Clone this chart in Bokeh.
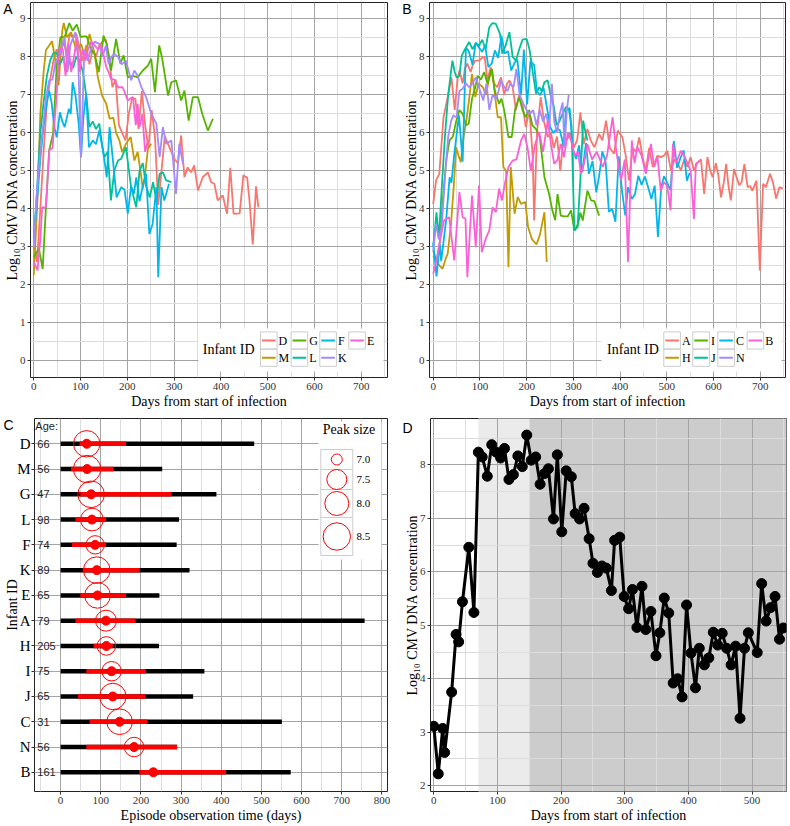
import numpy as np
from bokeh.plotting import figure
from bokeh.models import Range1d, FixedTicker, LinearAxis, CustomJSTickFormatter
from bokeh.layouts import column, row
from bokeh.embed import file_html
from bokeh.resources import INLINE
from bokeh.core.properties import value

# ---------------- data: panel A (days, log10 load) ----------------
D_pts = [(0,3.0),(7,2.6),(14,4.0),(21,5.5),(28,6.8),(35,7.4),(42,7.9),(49,8.2),(56,8.0),(63,8.4),(70,8.1),(77,8.6),(84,8.5),(91,8.6),(98,8.2),(105,7.9),(112,8.3),(119,7.8),(126,8.2),(133,8.0),(140,8.3),(147,8.4),(154,8.45),(161,8.0),(168,7.2),(175,7.4),(182,6.2),(189,6.0),(196,5.8),(203,6.5),(210,6.9),(217,6.9),(224,6.1),(231,7.1),(238,6.2),(245,5.6),(252,6.6),(259,5.9),(266,4.1),(273,5.0),(280,5.9),(287,5.7),(294,5.5),(301,5.3),(308,5.2),(315,5.93),(322,4.83),(329,5.09),(336,4.96),(343,5.14),(351,4.48),(361,4.83),(372,4.96),(379,4.7),(386,4.66),(393,4.22),(404,4.35),(413,3.87),(420,5.08),(427,3.87),(440,3.88),(448,4.88),(456,4.82),(461,4.22),(468,3.06),(475,4.59),(480,4.04)]
M_pts = [(0,2.25),(7,4.0),(14,6.5),(21,7.6),(26,8.18),(33,8.3),(39,8.41),(44,8.08),(53,7.25),(61,8.69),(64,8.89),(71,8.52),(80,8.65),(91,8.17),(101,8.34),(110,8.0),(119,8.6),(130,8.08),(137,7.46),(146,6.98),(155,6.76),(162,6.37),(170,6.4),(176,6.0),(183,5.8),(189,5.49),(197,5.71),(207,5.89),(215,5.27),(222,5.5),(228,5.0),(233,4.53),(238,4.9),(244,5.58),(251,5.71)]
G_pts = [(0,2.73),(11,2.95),(19,2.42),(26,4.04),(33,5.54),(41,5.97),(49,7.73),(57,8.52),(66,8.52),(76,8.89),(83,8.69),(92,8.85),(100,8.52),(105,8.54),(113,8.54),(123,8.17),(130,8.08),(139,7.6),(149,8.56),(156,8.34),(165,7.64),(176,8.47),(185,7.82),(192,8.04),(201,7.46),(212,7.5),(222,7.46),(233,7.64),(244,7.77),(251,7.95),(259,7.07),(268,8.3),(274,7.99),(287,6.98),(294,7.33),(304,7.38),(315,6.85),(322,7.11),(331,6.32),(340,6.94),(351,6.94),(360,6.5),(372,6.06),(383,6.37)]
L_pts = [(0,3.2),(7,4.5),(14,6.0),(21,6.8),(28,7.5),(35,7.9),(42,8.1),(49,8.1),(56,7.8),(63,8.0),(70,7.6),(77,7.9),(84,7.7),(91,8.0),(98,7.9),(105,7.6),(112,7.0),(119,6.15),(126,6.3),(133,6.1),(140,6.24),(147,5.6),(151,5.36),(158,5.5),(165,4.22),(172,5.0),(180,5.27),(187,5.32),(197,5.62),(208,4.57),(219,4.04),(226,5.0),(233,5.2),(240,4.6),(248,4.3),(255,4.7),(262,4.22),(269,4.92),(276,4.96),(283,4.75),(294,4.7)]
F_pts = [(0,3.25),(7,4.2),(14,5.3),(21,6.2),(28,6.8),(33,7.11),(38,6.8),(44,6.15),(49,5.88),(56,6.54),(61,6.3),(66,6.15),(75,6.63),(79,6.5),(83,7.33),(89,7.0),(96,6.24),(101,5.36),(106,6.4),(112,7.03),(118,5.62),(126,5.8),(133,5.7),(140,6.06),(147,5.6),(153,5.1),(156,4.83),(162,6.15),(169,5.3),(177,4.3),(187,4.57),(194,4.5),(201,3.87),(208,4.6),(214,4.4),(219,4.83),(226,4.2),(233,4.6),(240,4.92),(247,3.34),(254,3.6),(262,4.57),(266,2.2),(273,4.57),(279,4.22),(289,4.66)]
K_pts = [(0,3.0),(7,4.5),(14,5.5),(21,6.3),(26,6.94),(33,7.38),(40,7.4),(47,7.9),(54,8.0),(61,8.3),(66,8.52),(72,7.6),(78,8.3),(84,8.5),(89,8.65),(95,7.9),(101,5.36),(108,8.17),(115,7.9),(122,8.2),(130,8.4),(140,8.34),(147,8.0),(154,8.3),(160,7.8),(166,8.0),(172,8.08),(180,8.0),(188,7.8),(197,7.9),(208,7.38),(215,7.64),(222,7.5),(230,7.2),(240,6.94),(251,6.5),(262,6.24),(269,5.36),(276,6.15),(283,5.71),(294,5.8),(304,4.39),(311,5.71),(319,5.18)]
E_pts = [(0,2.6),(8,2.38),(14,3.2),(18,4.04),(26,4.04),(33,5.54),(40,5.6),(48,6.85),(55,8.25),(62,8.2),(68,7.5),(74,8.34),(80,7.6),(86,8.0),(92,8.5),(98,7.6),(104,8.2),(110,7.9),(116,8.2),(123,8.4),(130,8.3),(137,8.2),(144,8.3),(150,8.0),(155,7.73),(160,7.6),(165,7.42),(172,7.4),(180,7.2),(190,7.2),(201,6.85),(206,6.9),(212,6.94),(218,6.2),(222,6.76),(226,6.15),(232,6.5),(238,5.5),(244,5.8)]

# ---------------- data: panel B ----------------
A_pts = [(0,4.13),(6,4.75),(13,4.92),(22,6.41),(31,6.94),(39,7.46),(46,6.6),(52,7.4),(56,7.64),(63,7.3),(68,7.7),(73,7.82),(80,7.6),(85,7.8),(90,7.9),(98,7.9),(106,7.99),(110,8.0),(116,7.38),(123,7.73),(130,7.3),(137,7.2),(145,7.46),(152,7.0),(158,7.3),(163,7.38),(170,7.2),(177,6.6),(184,7.0),(191,6.76),(198,6.15),(206,6.59),(213,5.36),(216,3.69),(222,6.0),(230,6.94),(237,6.3),(245,5.89),(252,6.0),(258,5.6),(265,5.9),(272,5.0),(279,5.9),(286,5.8),(293,6.0),(300,5.6),(308,5.8),(315,6.54),(322,5.7),(330,6.1),(337,5.8),(345,5.62),(355,5.97),(362,5.8),(370,6.32),(378,5.6),(387,5.45),(395,6.06),(405,5.88),(412,5.4),(419,4.75),(427,5.6),(434,5.5),(441,5.88),(448,5.36),(455,5.0),(462,5.6),(470,5.1),(480,5.4),(487,5.36),(494,5.4),(501,5.53),(509,5.0),(516,5.3),(523,5.2),(530,5.01),(537,5.3),(544,5.1),(551,5.36),(558,5.0),(565,5.2),(573,5.3),(580,4.39),(587,5.36),(593,5.0),(598,4.83),(605,5.2),(610,4.9),(616,4.3),(622,4.7),(627,5.18),(632,4.6),(637,4.22),(644,5.05),(650,4.8),(655,4.62),(660,4.7),(666,5.18),(673,4.57),(678,4.6),(683,4.48),(692,4.74),(699,2.38),(706,4.66),(712,4.57),(721,4.92),(727,4.7),(734,4.27),(741,4.57),(748,4.53)]
H_pts = [(0,2.75),(7,2.6),(14,2.5),(20,2.42),(27,2.7),(31,2.82),(38,3.6),(44,4.6),(49,5.62),(54,5.4),(59,5.23),(65,5.9),(70,6.24),(76,6.8),(83,7.55),(90,6.94),(97,7.3),(106,7.2),(113,7.0),(119,7.4),(126,7.68),(132,7.0),(138,6.41),(145,6.41),(150,5.1),(156,5.0),(161,2.46),(166,5.1),(174,3.87),(181,4.31),(188,4.13),(197,4.18),(203,3.52),(211,3.21),(221,3.06),(228,3.3),(238,3.91),(243,2.6)]
I_pts = [(0,2.9),(7,2.6),(14,3.1),(21,4.3),(28,5.3),(35,5.8),(42,5.9),(49,6.3),(56,6.6),(63,6.5),(70,6.2),(76,6.24),(83,6.9),(90,7.2),(95,7.5),(102,7.4),(109,7.6),(116,7.3),(125,7.68),(132,7.1),(141,6.76),(146,6.9),(152,6.59),(161,5.89),(168,5.89),(175,6.6),(184,6.94),(191,6.6),(198,6.41),(205,6.6),(212,6.2),(220,6.1),(228,5.9),(238,4.83),(248,4.39),(255,3.96),(261,3.7),(266,4.39),(273,3.82),(280,3.8),(288,3.8),(295,3.96),(302,3.43),(310,3.6),(315,3.9),(320,3.69),(330,4.48),(338,4.22),(345,4.2),(355,3.82)]
J_pts = [(0,3.0),(7,3.91),(12,3.2),(18,4.5),(25,5.9),(32,7.0),(41,7.9),(46,7.6),(50,7.46),(56,7.5),(61,8.03),(68,8.2),(77,8.39),(84,8.2),(91,8.35),(98,8.3),(105,8.45),(112,8.2),(120,8.78),(127,8.89),(134,8.87),(143,8.6),(148,8.08),(155,8.3),(163,8.65),(170,8.0),(177,7.9),(184,8.2),(191,8.45),(200,8.47),(206,8.2),(213,7.6),(220,7.03),(227,7.2),(232,7.1),(238,7.33),(245,7.38),(251,7.0),(258,6.7),(264,6.2),(270,6.3),(277,6.5),(284,6.68),(290,6.63),(296,6.2),(302,3.43),(309,3.52),(315,4.8),(321,6.32),(326,6.0),(330,5.8)]
C_pts = [(0,3.11),(7,2.22),(14,3.07),(17,2.62),(28,3.75),(35,4.83),(39,4.69),(45,5.44),(55,6.46),(63,5.24),(70,8.24),(76,8.15),(84,7.79),(91,8.38),(98,8.24),(105,8.13),(111,8.31),(118,7.73),(125,7.82),(132,8.17),(139,7.97),(146,8.56),(153,8.09),(160,8.15),(167,7.64),(174,7.84),(180,7.93),(188,6.99),(194,8.19),(201,6.75),(208,7.89),(216,7.78),(222,7.09),(229,6.99),(236,7.19),(244,6.62),(250,6.16),(257,5.99),(264,6.11),(271,6.07),(279,5.65),(284,6.59),(292,6.65),(299,5.54),(306,5.31),(312,5.67),(319,4.96),(327,5.73),(333,4.92),(341,5.26),(349,4.43),(355,4.86),(362,5.51),(369,5.23),(376,3.92),(383,4.0),(390,3.66),(397,5.38),(404,4.48),(411,3.83),(417,4.57),(425,4.26),(432,4.39),(439,4.87),(446,4.63),(453,4.85),(460,4.57),(467,4.26),(474,4.61),(481,3.26),(488,4.57),(494,4.86),(508,4.49),(515,5.78),(522,5.08),(529,5.33),(536,5.54),(543,4.74),(549,4.95)]
N_pts = [(0,2.9),(6,3.6),(12,3.2),(18,3.5),(25,4.8),(32,5.9),(38,6.3),(43,6.46),(50,6.4),(56,7.1),(63,7.16),(70,7.3),(77,7.2),(84,7.3),(91,7.46),(98,7.2),(107,6.85),(114,7.3),(120,6.6),(127,7.0),(134,6.9),(140,7.1),(145,7.38),(152,7.2),(159,7.1),(165,7.3),(172,7.2),(178,7.68),(185,7.0),(193,6.76),(200,6.6),(207,6.5),(214,6.6),(221,6.2),(228,6.6),(235,6.3),(242,6.5),(248,6.1),(254,7.29),(259,6.3),(265,6.0),(271,6.5),(277,6.8),(281,5.6),(286,6.6),(290,7.0)]
B_pts = [(0,2.29),(8,2.7),(15,3.2),(23,3.69),(34,3.78),(45,2.64),(56,4.44),(63,3.78),(69,3.74),(73,2.2),(83,4.35),(91,2.99),(98,4.61),(104,2.86),(112,3.2),(120,3.43),(127,4.04),(134,3.91),(141,4.53),(147,4.22),(154,4.7),(161,5.1),(170,5.27),(178,5.3),(188,5.8),(195,5.97),(202,5.6),(209,5.0),(218,5.7),(227,6.02),(235,5.5),(245,6.32),(252,5.7),(259,5.18),(266,5.3),(273,5.71),(280,5.36),(288,6.0),(295,5.8),(303,5.4),(310,5.5),(316,4.92),(323,5.2),(330,5.7),(340,5.3),(350,5.5),(363,5.1),(372,5.4),(384,6.41),(392,5.5),(402,4.75),(410,5.3),(417,2.6),(425,5.8),(431,5.2),(437,5.62),(446,5.4),(455,4.92),(466,5.71),(473,5.1),(480,5.36),(487,4.48),(494,4.7),(501,4.6),(508,3.96),(513,5.71),(520,5.2),(530,5.53),(537,5.4),(544,5.2),(551,5.0),(558,3.73),(562,5.18),(571,5.27)]

panelA_ids = ["D", "M", "G", "L", "F", "K", "E"]
panelB_ids = ["A", "H", "I", "J", "C", "N", "B"]
series = {"D": D_pts, "M": M_pts, "G": G_pts, "L": L_pts, "F": F_pts, "K": K_pts, "E": E_pts,
          "A": A_pts, "H": H_pts, "I": I_pts, "J": J_pts, "C": C_pts, "N": N_pts, "B": B_pts}

# ---------------- data: panel C ----------------
c_ids = ["D", "M", "G", "L", "F", "K", "E", "A", "H", "I", "J", "C", "N", "B"]
c_ages = [66, 56, 47, 98, 74, 89, 65, 79, 205, 75, 65, 31, 56, 161]
c_obs_end = [482, 253, 388, 295, 289, 321, 246, 757, 245, 358, 330, 551, 290, 573]
c_red_start = [47, 26, 49, 37, 28, 55, 49, 37, 82, 64, 43, 72, 64, 196]
c_red_end = [163, 132, 276, 113, 113, 197, 163, 186, 130, 212, 211, 216, 290, 412]
c_peak_day = [65, 66, 76, 78, 86, 90, 92, 113, 114, 127, 130, 147, 183, 231]
c_peak_size = [8.35, 8.5, 8.38, 7.83, 7.41, 8.38, 8.24, 7.62, 7.42, 7.47, 8.35, 8.24, 7.47, 6.7]
size_legend_breaks = [7.0, 7.5, 8.0, 8.5]

# ---------------- data: panel D (infant C) ----------------
d_phase_left = [70, 150]
d_phase_right = [150, 600]

# ---------------- styling ----------------
SERIF = "Liberation Serif"
SANS = "Liberation Sans"
HUE7 = ["#F8766D", "#C49A00", "#53B400", "#00C094", "#00B6EB", "#A58AFF", "#FB61D7"]
MAJOR = "#a4a4a4"
MINOR = "#dddddd"
YLAB = "Log\u2081\u2080 CMV DNA concentration"
XLAB = "Days from start of infection"

SIZE_DOM = [6.5, 7.0, 7.5, 8.0, 8.5]
SIZE_RAD = [2.5, 5.5, 10.0, 12.0, 13.7]


def base_fig(xr, yr, fw, fh, xt, xm, yt, ym, xlabel, ylabel, b_right, b_top):
    p = figure(frame_width=fw, frame_height=fh, x_range=Range1d(*xr), y_range=Range1d(*yr),
               output_backend="svg", toolbar_location=None,
               min_border_left=0, min_border_right=b_right, min_border_top=b_top,
               min_border_bottom=0, background_fill_color="white", border_fill_color="white")
    p.outline_line_color = "#222222"
    p.outline_line_width = 1
    xtk = FixedTicker(ticks=xt, minor_ticks=xm)
    ytk = FixedTicker(ticks=yt, minor_ticks=ym)
    p.xaxis.ticker = xtk
    p.yaxis.ticker = ytk
    p.xgrid.ticker = xtk
    p.ygrid.ticker = ytk
    p.xaxis.axis_label = xlabel
    p.yaxis.axis_label = ylabel
    for ax in list(p.xaxis) + list(p.yaxis):
        ax.axis_line_color = None
        ax.major_tick_line_color = "#333333"
        ax.major_tick_out = 3
        ax.major_tick_in = 0
        ax.minor_tick_line_color = None
        ax.major_label_text_font = SERIF
        ax.major_label_text_font_size = "11px"
        ax.major_label_text_color = "#333333"
        ax.major_label_standoff = 1
        ax.axis_label_text_font = SERIF
        ax.axis_label_text_font_size = "14px"
        ax.axis_label_text_font_style = "normal"
        ax.axis_label_text_color = "black"
        ax.axis_label_standoff = 1
    p.yaxis.axis_label_standoff = -3
    for g in list(p.xgrid) + list(p.ygrid):
        g.grid_line_color = MAJOR
        g.grid_line_width = 1
        g.minor_grid_line_color = MINOR
        g.minor_grid_line_width = 1
    return p


def letter_axis(p, txt, y_at):
    # an extra, tick-less left axis that only carries the panel letter
    ax = LinearAxis(ticker=FixedTicker(ticks=[y_at], minor_ticks=[]),
                    formatter=CustomJSTickFormatter(code="return '%s';" % txt))
    ax.axis_line_color = None
    ax.major_tick_line_color = None
    ax.minor_tick_line_color = None
    ax.major_tick_out = 0
    ax.major_tick_in = 0
    ax.major_label_standoff = -11
    ax.major_label_text_font = SANS
    ax.major_label_text_font_size = "14px"
    ax.major_label_text_color = "black"
    p.add_layout(ax, "left")


def id_legend(p, ids, colors, xr, yr, fw, fh, title_off, col_offs, bg_off):
    dx = (xr[1] - xr[0]) / fw
    dy = (yr[1] - yr[0]) / fh
    X = lambda o: xr[1] - o * dx
    Y = lambda o: yr[0] + o * dy
    p.quad(left=[X(bg_off)], right=[X(4)], bottom=[Y(6)], top=[Y(49)],
           fill_color="white", line_color=None)
    p.text(x=[X(title_off)], y=[Y(28.5)], text=["Infant ID"], text_font=value(SERIF),
           text_font_size="14px", text_baseline="middle", text_align="left", text_color="black")
    kw, kh, top0 = 16.6, 17.2, 45.6
    L, R, T, B, x0, x1, ym, xl = [], [], [], [], [], [], [], []
    for k, iid in enumerate(ids):
        col, r = divmod(k, 2)
        lo = col_offs[col]
        t = top0 - r * kh
        b = t - kh
        L.append(X(lo)); R.append(X(lo - kw)); T.append(Y(t)); B.append(Y(b))
        x0.append(X(lo - 1.5)); x1.append(X(lo - kw + 1.5)); ym.append(Y((t + b) / 2))
        xl.append(X(lo - kw - 1.5))
    p.quad(left=L, right=R, top=T, bottom=B, fill_color=None, line_color="#cccccc", line_width=1)
    p.segment(x0=x0, y0=ym, x1=x1, y1=ym, line_color=colors, line_width=2)
    p.text(x=xl, y=ym, text=ids, text_font=value(SERIF), text_font_size="12px",
           text_baseline="middle", text_align="left", text_color="black")


def size_legend(p, xr, yr, fw, fh):
    dx = (xr[1] - xr[0]) / fw
    dy = (yr[1] - yr[0]) / fh
    X = lambda o: xr[1] - o * dx
    T = lambda o: yr[1] - o * dy
    p.quad(left=[X(69)], right=[X(6)], top=[T(3)], bottom=[T(141)], fill_color="white", line_color=None)
    p.text(x=[X(38.5)], y=[T(11)], text=["Peak size"], text_font=value(SERIF),
           text_font_size="14px", text_baseline="middle", text_align="center", text_color="black")
    edges = [31, 51, 71, 99, 137]
    L = [X(66.7)] * 4
    R = [X(34.7)] * 4
    tops = [T(e) for e in edges[:-1]]
    bots = [T(e) for e in edges[1:]]
    mids = [T((edges[i] + edges[i + 1]) / 2) for i in range(4)]
    p.quad(left=L, right=R, top=tops, bottom=bots, fill_color=None, line_color="#cccccc")
    diam = [2 * float(np.interp(v, SIZE_DOM, SIZE_RAD)) for v in size_legend_breaks]
    p.scatter(x=[X(50.7)] * 4, y=mids, size=diam, marker="circle", fill_color=None,
              line_color="red", line_width=1)
    p.text(x=[X(31)] * 4, y=mids, text=["%.1f" % v for v in size_legend_breaks],
           text_font=value(SERIF), text_font_size="11px", text_baseline="middle",
           text_align="left", text_color="black")


# ---------------- panels A & B ----------------
XT = list(range(0, 701, 100))
XM = list(range(50, 751, 100))
YT = list(range(0, 10))
YM = [v + 0.5 for v in range(0, 9)]

FH1 = 375
xrA, yrA, FWA = (-7, 756), (-0.44, 9.43), 357
pA = base_fig(xrA, yrA, FWA, FH1, XT, XM, YT, YM, XLAB, YLAB, 12, 2)
for iid, col in zip(panelA_ids, HUE7):
    d, v = zip(*series[iid])
    pA.line(list(d), list(v), line_color=col, line_width=1.8)
id_legend(pA, panelA_ids, HUE7, xrA, yrA, FWA, FH1, 184.7, [127, 96.4, 67.7, 38.7], 189)
letter_axis(pA, "A", 9.26)

xrB, yrB, FWB = (-8, 754), (-0.44, 9.43), 356
pB = base_fig(xrB, yrB, FWB, FH1, XT, XM, YT, YM, XLAB, YLAB, 2, 2)
for iid, col in zip(panelB_ids, HUE7):
    d, v = zip(*series[iid])
    pB.line(list(d), list(v), line_color=col, line_width=1.8)
id_legend(pB, panelB_ids, HUE7, xrB, yrB, FWB, FH1, 178.4, [121.7, 92.7, 67.7, 38.4], 184)
letter_axis(pB, "B", 9.26)

# ---------------- panel C ----------------
FH2 = 373
n = len(c_ids)
ypos = [n - i for i in range(n)]
xrC, yrC, FWC = (-65, 814), (0.24, 15.0), 353
pC = base_fig(xrC, yrC, FWC, FH2, list(range(0, 801, 100)), list(range(-50, 801, 100)),
              ypos, [], "Episode observation time (days)", "Infant ID", 12, 7)
pC.yaxis.major_label_overrides = {y: lab for y, lab in zip(ypos, c_ids)}
pC.yaxis.major_label_text_font_size = "15px"
pC.yaxis.major_label_text_color = "black"
pC.yaxis.axis_label_standoff = -6
pC.segment(x0=[0] * n, y0=ypos, x1=c_obs_end, y1=ypos, line_color="black", line_width=4.5)
pC.segment(x0=c_red_start, y0=ypos, x1=c_red_end, y1=ypos, line_color="red", line_width=4.5)
pC.scatter(x=c_peak_day, y=ypos, size=9, marker="circle", fill_color="red", line_color="red")
c_diam = [2 * float(np.interp(v, SIZE_DOM, SIZE_RAD)) for v in c_peak_size]
pC.scatter(x=c_peak_day, y=ypos, size=c_diam, marker="circle", fill_color=None,
           line_color="red", line_width=1)
pC.text(x=[-58] * n, y=ypos, text=[str(a) for a in c_ages], text_font=value(SANS),
        text_font_size="11px", text_baseline="middle", text_align="left", text_color="#222222")
pC.text(x=[-63], y=[14.72], text=["Age:"], text_font=value(SANS), text_font_size="11px",
        text_baseline="middle", text_align="left", text_color="#222222")
size_legend(pC, xrC, yrC, FWC, FH2)
letter_axis(pC, "C", 14.73)

# ---------------- panel D ----------------
xrD, yrD, FWD = (-5.2, 554), (1.89, 8.87), 356
pD = base_fig(xrD, yrD, FWD, FH2, list(range(0, 501, 100)), list(range(50, 551, 100)),
              list(range(2, 9)), [v + 0.5 for v in range(2, 9)], XLAB, YLAB, 2, 7)
pD.quad(left=d_phase_left, right=d_phase_right, bottom=[0, 0], top=[10, 10],
        fill_color=["#ebebeb", "#cccccc"], line_color=None, level="image")
dd, dv = zip(*C_pts)
pD.line(list(dd), list(dv), line_color="black", line_width=3)
pD.scatter(list(dd), list(dv), size=10, marker="circle", fill_color="black", line_color="black")
letter_axis(pD, "D", 8.69)

layout = column(row(pA, pB), row(pC, pD))
open("out.html", "w").write(file_html(layout, INLINE, title="CMV"))
